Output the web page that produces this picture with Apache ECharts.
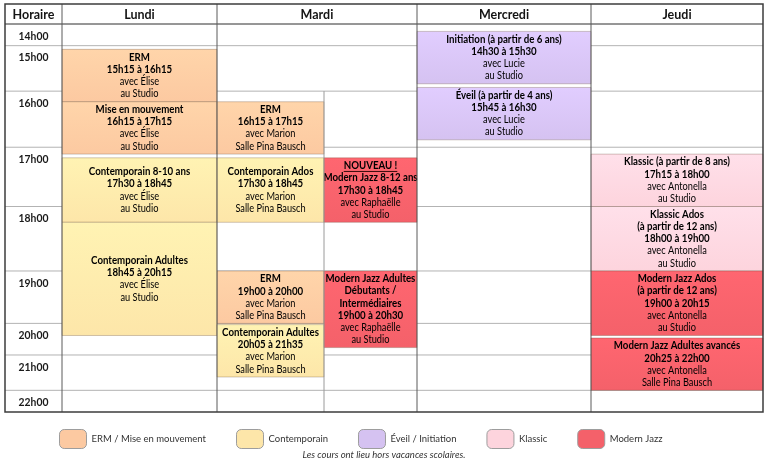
<!DOCTYPE html>
<html lang="fr">
<head>
<meta charset="utf-8">
<title>Planning des cours</title>
<script src="https://cdn.jsdelivr.net/npm/echarts@6.0.0/dist/echarts.min.js"></script>
<style>
  html, body { margin: 0; padding: 0; background: #fff; }
  #main { width: 768px; height: 463px; }
</style>
</head>
<body>
<div id="main"></div>
<script>
// ---- données du planning ----
const days = ['Lundi', 'Mardi', 'Mercredi', 'Jeudi']
const hourLabels = ['14h00', '15h00', '16h00', '17h00', '18h00', '19h00', '20h00', '21h00', '22h00']
const categories = ['ERM / Mise en mouvement', 'Contemporain', 'Éveil / Initiation', 'Klassic', 'Modern Jazz']

const courseDay = [0, 0, 0, 0, 1, 1, 1, 1, 1, 1, 2, 2, 3, 3, 3, 3]
// 0 = toute la colonne, 1 = moitié gauche, 2 = moitié droite
const courseLane = [0, 0, 0, 0, 1, 1, 1, 1, 2, 2, 0, 0, 0, 0, 0, 0]
const courseCat = [0, 0, 1, 1, 0, 1, 0, 1, 4, 4, 2, 2, 3, 3, 4, 4]
const courseTitle = [
  ['ERM'],
  ['Mise en mouvement'],
  ['Contemporain 8-10 ans'],
  ['Contemporain Adultes'],
  ['ERM'],
  ['Contemporain Ados'],
  ['ERM'],
  ['Contemporain Adultes'],
  ['Modern Jazz 8-12 ans'],
  ['Modern Jazz Adultes', 'Débutants /', 'Intermédiaires'],
  ['Initiation (à partir de 6 ans)'],
  ['Éveil (à partir de 4 ans)'],
  ['Klassic (à partir de 8 ans)'],
  ['Klassic Ados', '(à partir de 12 ans)'],
  ['Modern Jazz Ados', '(à partir de 12 ans)'],
  ['Modern Jazz Adultes avancés'],
]
const courseTag = ['', '', '', '', '', '', '', '', 'NOUVEAU !', '', '', '', '', '', '', '']
const courseStart = ['15h15', '16h15', '17h30', '18h45', '16h15', '17h30', '19h00', '20h05',
  '17h30', '19h00', '14h30', '15h45', '17h15', '18h00', '19h00', '20h25']
const courseEnd = ['16h15', '17h15', '18h45', '20h15', '17h15', '18h45', '20h00', '21h35',
  '18h45', '20h30', '15h30', '16h30', '18h00', '19h00', '20h15', '22h00']
const courseTeacher = ['Élise', 'Élise', 'Élise', 'Élise', 'Marion', 'Marion', 'Marion', 'Marion',
  'Raphaëlle', 'Raphaëlle', 'Lucie', 'Lucie', 'Antonella', 'Antonella', 'Antonella', 'Antonella']
const courseRoom = ['au Studio', 'au Studio', 'au Studio', 'au Studio',
  'Salle Pina Bausch', 'Salle Pina Bausch', 'Salle Pina Bausch', 'Salle Pina Bausch',
  'au Studio', 'au Studio', 'au Studio', 'au Studio', 'au Studio', 'au Studio', 'au Studio', 'Salle Pina Bausch']
const footnote = 'Les cours ont lieu hors vacances scolaires.'

// ---- style ----
const catColors = ['#fcc9a1', '#fde6a9', '#d5c2f1', '#fdd4dd', '#f4616a']
const FONT = 'Lato, "Noto Sans", sans-serif'
const colWidths = [57, 155, 200, 174, 172] // Horaire + jours
const mardiSplit = 107 / 200
const headerH = 20
const lineH = 12.3
const blockPad = 4
const rowNeed = 22
const minRate = 0.25 // px par minute pour les creneaux vides
const squeeze = 0.88 // texte un peu condense
const gridPos = { left: 5, right: 5, top: 4, bottom: 51 }

const toMin = (s) => {
  const [h, m] = s.split('h').map(Number)
  return h * 60 + m
}
const lineCount = (i) => courseTitle[i].length + (courseTag[i] ? 1 : 0) + 3

const chart = echarts.init(document.getElementById('main'))
const gridH = chart.getHeight() - gridPos.top - gridPos.bottom
const totalW = colWidths.reduce((a, b) => a + b, 0)

// echelle du temps : comme un tableau, chaque cours recoit au moins la hauteur de son texte
// (plus long chemin sur les instants tries), le reste est reparti selon la duree
function buildTimeScale(avail) {
  const hourMins = hourLabels.map(toMin)
  const endMin = hourMins[hourMins.length - 1] + 30
  const pts = [...new Set([...hourMins, endMin, ...courseStart.map(toMin), ...courseEnd.map(toMin)])]
    .sort((a, b) => a - b)
  const n = pts.length
  const edges = []
  for (let k = 0; k < n - 1; k++) edges.push([k, k + 1, (pts[k + 1] - pts[k]) * minRate])
  courseStart.forEach((s, i) => {
    edges.push([pts.indexOf(toMin(s)), pts.indexOf(toMin(courseEnd[i])), lineCount(i) * lineH + blockPad])
  })
  hourMins.forEach((m, k) => {
    const e = k < hourMins.length - 1 ? hourMins[k + 1] : endMin
    edges.push([pts.indexOf(m), pts.indexOf(e), rowNeed])
  })
  const y = pts.map(() => 0)
  for (let j = 1; j < n; j++) {
    edges.forEach(([a, b, w]) => {
      if (b === j) y[j] = Math.max(y[j], y[a] + w)
    })
  }
  const total = y[n - 1]
  const span = pts[n - 1] - pts[0]
  const pos = y.map((v, j) => (total < avail
    ? v + (avail - total) * (pts[j] - pts[0]) / span
    : v * avail / total))
  return (t) => {
    let k = 0
    while (k < n - 2 && pts[k + 1] < t) k++
    return pos[k] + (t - pts[k]) / (pts[k + 1] - pts[k]) * (pos[k + 1] - pos[k])
  }
}
const timeScale = buildTimeScale(gridH - headerH)
const timeY = (t) => headerH + timeScale(t)

function colLeft(c) {
  let x = 0
  for (let k = 0; k < c; k++) x += colWidths[k]
  return x
}
function laneX(day, lane) {
  const x0 = colLeft(day + 1)
  const w = colWidths[day + 1]
  if (lane === 1) return [x0, x0 + w * mardiSplit]
  if (lane === 2) return [x0 + w * mardiSplit, x0 + w]
  return [x0, x0 + w]
}

const measureCtx = document.createElement('canvas').getContext('2d')

function renderCourse(params, api) {
  const i = api.value(0)
  const [x0, x1] = laneX(courseDay[i], courseLane[i])
  const p0 = api.coord([x0, timeY(toMin(courseStart[i]))])
  const p1 = api.coord([x1, timeY(toMin(courseEnd[i]))])
  const w = p1[0] - p0[0]
  const h = p1[1] - p0[1]
  const lines = []
  if (courseTag[i]) lines.push('{n|' + courseTag[i] + '}')
  courseTitle[i].forEach((t) => lines.push('{t|' + t + '}'))
  lines.push('{t|' + courseStart[i] + ' à ' + courseEnd[i] + '}')
  lines.push('{s|avec ' + courseTeacher[i] + '}')
  lines.push('{s|' + courseRoom[i] + '}')
  const cx = p0[0] + w / 2
  const cy = p0[1] + h / 2
  const base = catColors[courseCat[i]]
  const children = [
    {
      type: 'rect',
      shape: { x: p0[0], y: p0[1], width: w, height: h },
      style: {
        fill: new echarts.graphic.LinearGradient(0, 0, 0, 1, [
          { offset: 0, color: echarts.color.lift(base, -0.06) },
          { offset: 1, color: base },
        ]),
        stroke: 'rgba(90,60,40,0.28)',
        lineWidth: 1,
      },
    },
    {
      type: 'text',
      x: cx,
      y: cy,
      scaleX: squeeze,
      style: {
        text: lines.join('\n'),
        align: 'center',
        verticalAlign: 'middle',
        rich: {
          t: { fontFamily: FONT, fontWeight: 'bold', fontSize: 11, lineHeight: lineH, color: '#1d1d1d' },
          s: { fontFamily: FONT, fontSize: 10.5, lineHeight: lineH, color: '#3b3b3b' },
          n: { fontFamily: FONT, fontWeight: 'bold', fontSize: 11, lineHeight: lineH, color: '#3a0c0c' },
        },
      },
    },
  ]
  if (courseTag[i]) {
    measureCtx.font = 'bold 11px ' + FONT
    const tw = measureCtx.measureText(courseTag[i]).width * squeeze
    const ly = cy - (lines.length * lineH) / 2 + lineH / 2 + 6
    children.push({
      type: 'line',
      shape: { x1: cx - tw / 2, y1: ly, x2: cx + tw / 2, y2: ly },
      style: { stroke: '#3a0c0c', lineWidth: 1 },
    })
  }
  return { type: 'group', children }
}

function renderHour(params, api) {
  const k = api.value(0)
  const y = timeY(toMin(hourLabels[k]))
  const a = api.coord([0, y])
  const b = api.coord([totalW, y])
  const lab = api.coord([colWidths[0] / 2, y])
  return {
    type: 'group',
    children: [
      { type: 'line', shape: { x1: a[0], y1: a[1], x2: b[0], y2: b[1] }, style: { stroke: '#b3b3b3', lineWidth: 1 } },
      {
        type: 'text',
        x: lab[0],
        y: lab[1] + 12,
        scaleX: 0.9,
        style: {
          text: hourLabels[k], align: 'center', verticalAlign: 'middle',
          fontFamily: FONT, fontWeight: 'bold', fontSize: 11.5, fill: '#1a1a1a',
        },
      },
    ],
  }
}

function renderFrame(params, api) {
  const tl = api.coord([0, 0])
  const br = api.coord([totalW, gridH])
  const hy = api.coord([0, headerH])[1]
  const heads = ['Horaire'].concat(days)
  const children = [
    { type: 'line', shape: { x1: tl[0], y1: hy, x2: br[0], y2: hy }, style: { stroke: '#555', lineWidth: 1 } },
  ]
  // separation de la colonne Mardi a partir de la premiere heure ou elle est partagee
  const splitStarts = courseStart.filter((s, i) => courseLane[i] > 0).map(toMin)
  const splitFrom = Math.floor(Math.min(...splitStarts) / 60) * 60
  const mx = api.coord([colLeft(2) + colWidths[2] * mardiSplit, timeY(splitFrom)])
  children.push({ type: 'line', shape: { x1: mx[0], y1: mx[1], x2: mx[0], y2: br[1] }, style: { stroke: '#9a9a9a', lineWidth: 1 } })
  heads.forEach((name, c) => {
    const x = api.coord([colLeft(c), 0])[0]
    if (c > 0) {
      children.push({ type: 'line', shape: { x1: x, y1: tl[1], x2: x, y2: br[1] }, style: { stroke: '#5a5a5a', lineWidth: 1 } })
    }
    const cxp = api.coord([colLeft(c) + colWidths[c] / 2, headerH / 2])
    children.push({
      type: 'text',
      x: cxp[0],
      y: cxp[1] + 1,
      style: {
        text: name, align: 'center', verticalAlign: 'middle',
        fontFamily: FONT, fontWeight: 'bold', fontSize: 12.5, fill: '#141414',
      },
    })
  })
  children.push({
    type: 'rect',
    shape: { x: tl[0], y: tl[1], width: br[0] - tl[0], height: br[1] - tl[1] },
    style: { fill: 'none', stroke: '#3c3c3c', lineWidth: 1.5 },
  })
  return { type: 'group', children }
}

const courseSeries = categories.map((name, c) => ({
  name,
  type: 'custom',
  z: 2,
  itemStyle: { color: catColors[c] },
  renderItem: renderCourse,
  data: courseCat.map((cat, i) => (cat === c ? [i, 0] : null)).filter(Boolean),
}))

const option = {
  backgroundColor: '#fff',
  animation: false,
  title: {
    text: footnote,
    left: 'center',
    top: 445,
    textStyle: { fontFamily: FONT, fontStyle: 'italic', fontWeight: 'normal', fontSize: 9.5, color: '#333' },
  },
  legend: {
    data: categories,
    top: 424,
    left: 54,
    icon: 'roundRect',
    itemWidth: 27,
    itemHeight: 19,
    itemGap: 30,
    selectedMode: false,
    itemStyle: { borderColor: '#9d9d9d', borderWidth: 1 },
    textStyle: { fontFamily: FONT, fontSize: 9.5, color: '#333' },
  },
  grid: gridPos,
  xAxis: { type: 'value', min: 0, max: totalW, show: false },
  yAxis: { type: 'value', min: 0, max: gridH, inverse: true, show: false },
  series: [
    {
      type: 'custom',
      z: 1,
      silent: true,
      renderItem: renderHour,
      data: hourLabels.map((h, k) => [k, 0]),
    },
    ...courseSeries,
    {
      type: 'custom',
      z: 3,
      silent: true,
      renderItem: renderFrame,
      data: [[0, 0]],
    },
  ],
}

option && chart.setOption(option)
window.addEventListener('resize', function () {
  chart.resize()
})
</script>
</body>
</html>
